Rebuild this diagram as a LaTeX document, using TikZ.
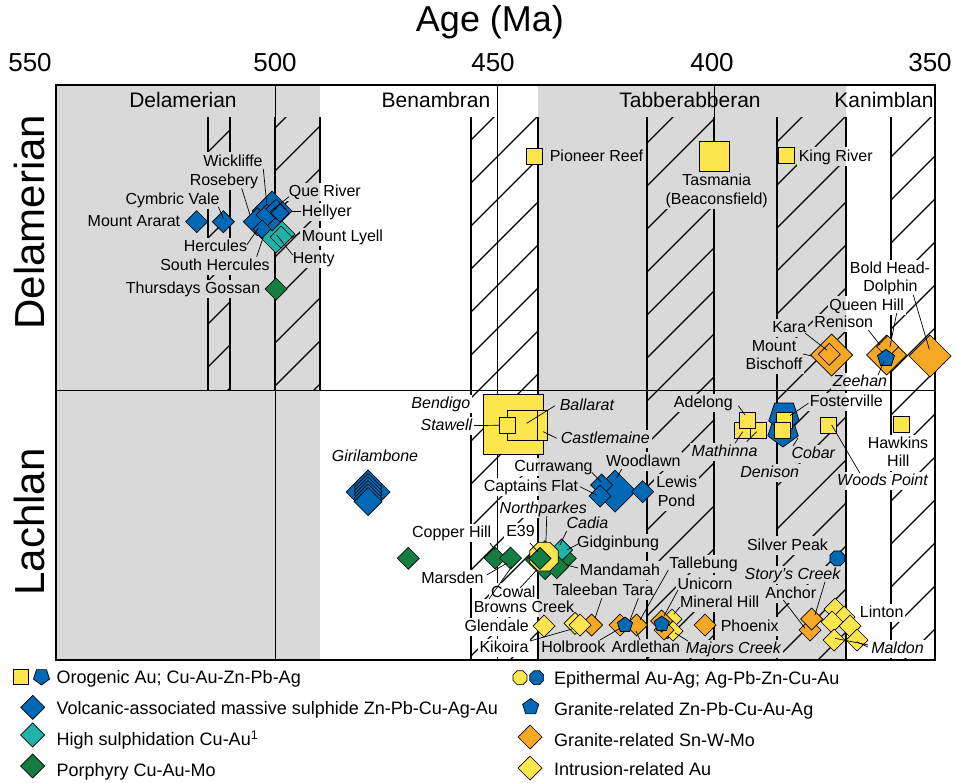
\documentclass[tikz,border=0pt]{standalone}
\usepackage{fontspec}
\setmainfont{Liberation Sans}
\usetikzlibrary{shapes.geometric,calc}
\pgfdeclarelayer{bg}
\pgfdeclarelayer{knock}
\pgfsetlayers{bg,knock,main}
\definecolor{zone}{RGB}{217,217,217}
\definecolor{oy}{RGB}{253,230,77}
\definecolor{vb}{RGB}{0,104,180}
\definecolor{hs}{RGB}{32,180,168}
\definecolor{pg}{RGB}{20,125,66}
\definecolor{go}{RGB}{245,168,38}
\tikzset{
  mk/.style={draw=black,line width=0.7pt,inner sep=0pt,outer sep=0pt},
  lb/.style={font=\fontsize{16}{18}\selectfont,inner sep=0.6pt,text height=12pt,text depth=1.6pt},
  lbi/.style={lb,font=\fontsize{16}{18}\selectfont\itshape},
  lead/.style={draw=black,line width=0.7pt},
  hatchln/.style={line width=1.2pt},
  bandln/.style={line width=1.8pt},
  ageln/.style={line width=0.8pt},
  leg/.style={font=\fontsize{18}{20}\selectfont,anchor=west,inner sep=0pt,text height=14pt,text depth=1.5pt},
  num/.style={font=\fontsize{26}{30}\selectfont,anchor=base,inner sep=0pt},
  oro/.style={font=\fontsize{21}{24}\selectfont,anchor=base,inner sep=0pt},
  side/.style={font=\fontsize{42}{46}\selectfont,rotate=90,inner sep=0pt}
}
\newcommand\Dia[5]{\node[mk,diamond,fill=#5,minimum width=2*#4pt,minimum height=2*#4pt] (#1) at (#2,#3) {};}
\newcommand\Sq[4]{\node[mk,rectangle,fill=oy,minimum size=#4pt] (#1) at (#2,#3) {};}
\newcommand\Pent[5]{\node[mk,regular polygon,regular polygon sides=5,fill=vb,minimum size=2*#4pt,shape border rotate=#5] (#1) at (#2,#3) {};}
\newcommand\Oct[5]{\node[mk,regular polygon,regular polygon sides=8,fill=#5,minimum size=2*#4pt] (#1) at (#2,#3) {};}
\def\knocklist{lWick,lRose,lCymb,lArar,lQue,lHell,lLyell,lHenty,lHerc,lSHerc,lThur,lPion,lTasA,lTasB,lKing,lBoldA,lBoldB,lQueen,lRen,lKara,lMtBa,lMtBb,lZee,lBend,lStaw,lBall,lCast,lAdel,lFost,lMath,lCob,lDen,lWoods,lHawA,lHawB,lGiri,lWood,lCurr,lCapt,lLewA,lLewB,lNorth,lCadia,lCopp,lEtn,lGidg,lSilv,lTall,lMand,lStory,lMars,lUni,lTale,lTara,lCowal,lAnch,lMin,lBrown,lLint,lGlen,lPhoe,lKik,lHolb,lArd,lMaj,lMald}
\begin{document}
\begin{tikzpicture}[x=1pt,y=-1pt]
\useasboundingbox (0,0) rectangle (956,782);
% ---------- background: zones, hatching, lines
\begin{pgfonlayer}{bg}
\fill[white] (0,0) rectangle (956,782);
\fill[zone] (56,85) rectangle (320,660);
\fill[zone] (538,85) rectangle (846,660);
\begin{scope}
\clip (208,117) rectangle (230,390) (275,117) rectangle (320,390)
      (647,117) rectangle (714,660)
      (777,117) rectangle (846,660) (891,117) rectangle (935,660);
\foreach \k in {6,...,38}{\pgfmathsetmacro\c{16+43*\k}\draw[hatchln] (\c-100,100) -- (\c-700,700);}
\end{scope}
\begin{scope}
\clip (471,117) rectangle (538,660);
\foreach \k in {12,...,28}{\pgfmathsetmacro\c{9+43*\k}\draw[hatchln] (\c-100,100) -- (\c-700,700);}
\end{scope}
\foreach \x in {208,230,275,320}{\draw[bandln] (\x,117) -- (\x,390);}
\foreach \x in {471,538,647,714,777,846,891}{\draw[bandln] (\x,117) -- (\x,660);}
\foreach \x in {275,497,714}{\draw[ageln] (\x,85) -- (\x,660);}
\end{pgfonlayer}
% ---------- frame and axis
\draw[line width=1.2pt] (56,85) rectangle (935,660);
\draw[line width=1pt] (56,390) -- (935,390);
\node[font=\fontsize{36}{40}\selectfont,anchor=base,inner sep=0pt] (title) at (490,31) {Age (Ma)};
\node[num] (t550) at (30,71) {550};
\node[num] (t500) at (275,71) {500};
\node[num] (t450) at (493,71) {450};
\node[num] (t400) at (712,71) {400};
\node[num] (t350) at (930,71) {350};
\node[oro] (oDel) at (183,107) {Delamerian};
\node[oro] (oBen) at (436,107) {Benambran};
\node[oro] (oTab) at (690,107) {Tabberabberan};
\node[oro] (oKan) at (884,107) {Kanimblan};
\node[side] (vDel) at (29,222) {Delamerian};
\node[side] (vLach) at (29,522) {Lachlan};
% ---------- markers: Delamerian
\Dia{mArar}{196.7}{221.7}{11}{vb}
\Dia{mCymb}{223.3}{221.7}{11}{vb}
\Dia{mLyell}{276}{234}{19}{hs}
\Dia{mHenty}{281}{237}{11}{hs}
\Dia{mRose}{272}{211}{20}{vb}
\Dia{mHerc}{257.3}{221.7}{14}{vb}
\Dia{mWick}{267}{215}{11}{vb}
\Dia{mQue}{276}{209}{10}{vb}
\Dia{mSHerc}{262}{229}{9}{vb}
\Dia{mHell}{280}{213}{9}{vb}
\Dia{mThur}{276}{289}{11}{pg}
\Sq{mPion}{534.7}{156.3}{16}
\Sq{mTas}{714.3}{156.2}{30}
\Sq{mKing}{786.3}{155.5}{16}
\Dia{mBisc}{831.7}{355}{21}{go}
\Dia{mKara}{829.3}{354.3}{11}{go}
\Dia{mRen}{886.7}{355}{20}{go}
\Dia{mQueen}{887.7}{346.7}{11}{go}
\Pent{mZee}{886}{358.3}{9}{0}
\Dia{mBold}{930}{356}{21}{go}
% ---------- markers: Lachlan
\Sq{mBend}{513.3}{424.2}{60}
\Sq{mCast}{532.3}{425}{30}
\Sq{mBall}{522.3}{425}{30}
\Sq{mStaw}{507.5}{425.3}{16}
\Dia{mGir0}{368}{492}{22}{vb}
\foreach \i/\y in {1/484,2/487.5,3/491,4/494.5,5/498,6/501.5}{\Dia{mGir\i}{368}{\y}{14}{vb}}
\Dia{mWood}{615}{491}{21}{vb}
\Dia{mCurr}{601.7}{485}{11}{vb}
\Dia{mCapt}{600}{496}{11}{vb}
\Dia{mLew}{642.7}{491.7}{11}{vb}
\Dia{mLone}{408.3}{558.3}{11}{pg}
\Dia{mCopp}{495}{558}{11}{pg}
\Dia{mMars}{510.5}{558}{11}{pg}
\Dia{mNorth}{545}{560}{19.5}{pg}
\Dia{mCadia}{563.3}{558.3}{13}{pg}
\Dia{mGidg}{561.7}{550}{11}{hs}
\Dia{mMand}{556.7}{566.7}{12}{pg}
\Oct{mCowal}{544}{556.7}{15.5}{oy}
\Dia{mEtn}{540}{558.3}{11}{pg}
\Dia{mGlen}{544}{626}{11}{oy}
\Dia{mTale}{591.7}{625}{11}{go}
\Dia{mKikA}{575}{623.3}{11}{oy}
\Dia{mKikB}{580}{625}{11}{oy}
\Dia{mArd}{636.7}{625}{11}{go}
\Dia{mTara}{620}{625}{11}{go}
\Pent{mHolb}{625}{625}{8}{0}
\Dia{mMajA}{672}{619}{10}{oy}
\Dia{mMajB}{673}{631}{10}{oy}
\Dia{mUniA}{664}{630}{10}{go}
\Dia{mUniB}{661.7}{621}{11}{go}
\Pent{mMin}{661.7}{624}{8}{0}
\Dia{mPhoe}{705}{625}{11}{go}
\Oct{mSilv}{837.3}{558.3}{8}{vb}
\Dia{mAnchA}{810}{630}{11}{go}
\Dia{mAnchB}{811.7}{619}{11}{go}
\Dia{mLinA}{835}{609}{11}{oy}
\Dia{mLinB}{844}{617}{11}{oy}
\Dia{mLinC}{832}{622}{11}{oy}
\Dia{mLinD}{850}{626}{11}{oy}
\Dia{mMalA}{834}{640}{11}{oy}
\Dia{mMalB}{857}{640}{11}{oy}
\Sq{mAdeA}{742}{430}{16}
\Sq{mAdeB}{758.7}{430}{16}
\Sq{mAdeC}{747}{420}{16}
\Pent{mDenA}{783}{431}{16}{180}
\Pent{mDenB}{784}{416}{16}{180}
\Sq{mFost}{784.7}{420.3}{16}
\Sq{mCob}{782}{430.5}{16}
\Sq{mWoods}{828.7}{425.3}{16}
\Sq{mHaw}{901.3}{424.7}{16}
% ---------- leaders
\draw[lead] (263.3,169) -- (266.7,203.3);
\draw[lead] (241.7,188.3) -- (250,215);
\draw[lead] (218.3,206.7) -- (223.3,218.3);
\draw[lead] (289,196.7) -- (270,211.7);
\draw[lead] (301,211) -- (292,211);
\draw[lead] (300,233) -- (291,238);
\draw[lead] (292.7,255) -- (276.7,235);
\draw[lead] (246.7,245) -- (258.3,228.3);
\draw[lead] (256.7,256.7) -- (263.3,236.7);
\draw[lead] (805,333) -- (826.7,350);
\draw[lead] (803,354) -- (812,356);
\draw[lead] (896.7,313) -- (890,346.7);
\draw[lead] (868.3,330) -- (880,345);
\draw[lead] (878,375) -- (884,361.7);
\draw[lead] (913.3,295) -- (929.3,349.3);
\draw[lead] (474,425.5) -- (mStaw.west);
\draw[lead] (555,405.7) -- (526.7,423.3);
\draw[lead] (556.7,438.3) -- (543.3,431.7);
\draw[lead] (738.3,405.7) -- (745,415);
\draw[lead] (742.7,431.7) -- (735,443.3);
\draw[lead] (756.7,431.7) -- (746.7,441.7);
\draw[lead] (808.3,403.3) -- (790,415.7);
\draw[lead] (860,473.3) -- (831.7,425);
\draw[lead] (793,446) -- (798,438);
\draw[lead] (621.7,469) -- (616.7,478);
\draw[lead] (591.7,472.3) -- (601,481.7);
\draw[lead] (580,486.7) -- (596.7,495);
\draw[lead] (546.7,516) -- (546,540.5);
\draw[lead] (566.7,531) -- (560,545);
\draw[lead] (530,543) -- (538,552);
\draw[lead] (490,543) -- (495,550);
\draw[lead] (578,544) -- (566.7,550);
\draw[lead] (578,568) -- (566.7,565);
\draw[lead] (486.7,575) -- (506.7,563.3);
\draw[lead] (489,599) -- (511.7,566.7);
\draw[lead] (520,588) -- (536.7,570);
\draw[lead] (601.7,598.3) -- (595,618.3);
\draw[lead] (638.3,598.3) -- (630,620);
\draw[lead] (668.3,570) -- (640,620);
\draw[lead] (678,590) -- (664,616);
\draw[lead] (680,607) -- (674,614);
\draw[lead] (600,640) -- (620,628.3);
\draw[lead] (640,640) -- (636,631);
\draw[lead] (688,641) -- (675,633);
\draw[lead] (530,641) -- (572,629);
\draw[lead] (825,581.7) -- (815,615);
\draw[lead] (783.3,600) -- (805,628.3);
\draw[lead] (868.3,645) -- (835,638.3);
\draw[lead] (868,647) -- (856.7,641.7);
% ---------- labels: Delamerian
\node[lb] (lWick) at (233,161) {Wickliffe};
\node[lb] (lRose) at (224,180) {Rosebery};
\node[lb] (lCymb) at (172.5,199) {Cymbric Vale};
\node[lb,anchor=east] (lArar) at (181,221.7) {Mount Ararat};
\node[lb,anchor=west] (lQue) at (288,191.5) {Que River};
\node[lb,anchor=west] (lHell) at (301,211.5) {Hellyer};
\node[lb,anchor=west] (lLyell) at (301,236.5) {Mount Lyell};
\node[lb,anchor=west] (lHenty) at (292,258.5) {Henty};
\node[lb] (lHerc) at (215.5,246.7) {Hercules};
\node[lb] (lSHerc) at (215,265) {South Hercules};
\node[lb,anchor=east] (lThur) at (261,288.5) {Thursdays Gossan};
\node[lb,anchor=west] (lPion) at (549,156.5) {Pioneer Reef};
\node[lb] (lTasA) at (716.7,180.7) {Tasmania};
\node[lb] (lTasB) at (716.7,199) {(Beaconsfield)};
\node[lb,anchor=west] (lKing) at (798,156) {King River};
\node[lb] (lBoldA) at (890,268.3) {Bold Head-};
\node[lb] (lBoldB) at (890.5,286.7) {Dolphin};
\node[lb] (lQueen) at (866.7,305) {Queen Hill};
\node[lb] (lRen) at (843.8,322.7) {Renison};
\node[lb] (lKara) at (789.3,327.3) {Kara};
\node[lb] (lMtBa) at (774,346.7) {Mount};
\node[lb] (lMtBb) at (774,364.3) {Bischoff};
\node[lbi] (lZee) at (860,381.7) {Zeehan};
% ---------- labels: Lachlan
\node[lbi,anchor=east] (lBend) at (471,403.3) {Bendigo};
\node[lbi,anchor=east] (lStaw) at (473,425.7) {Stawell};
\node[lbi,anchor=west] (lBall) at (559,405.7) {Ballarat};
\node[lbi,anchor=west] (lCast) at (560,438.3) {Castlemaine};
\node[lb,anchor=east] (lAdel) at (733.5,402.5) {Adelong};
\node[lb,anchor=west] (lFost) at (809,401.7) {Fosterville};
\node[lbi,anchor=east] (lMath) at (758.3,451.7) {Mathinna};
\node[lbi,anchor=west] (lCob) at (790.7,453.3) {Cobar};
\node[lbi] (lDen) at (769.7,472.3) {Denison};
\node[lbi] (lWoods) at (882.5,480.7) {Woods Point};
\node[lb] (lHawA) at (898,443.3) {Hawkins};
\node[lb] (lHawB) at (898.3,461) {Hill};
\node[lbi] (lGiri) at (375,456) {Girilambone};
\node[lb] (lWood) at (643.3,461) {Woodlawn};
\node[lb] (lCurr) at (553.5,466.7) {Currawang};
\node[lb] (lCapt) at (531,486.7) {Captains Flat};
\node[lb] (lLewA) at (676.7,482.7) {Lewis};
\node[lb] (lLewB) at (676.5,501) {Pond};
\node[lbi] (lNorth) at (543.3,508.3) {Northparkes};
\node[lbi] (lCadia) at (587.5,523.3) {Cadia};
\node[lb] (lCopp) at (451.7,532.3) {Copper Hill};
\node[lb] (lEtn) at (520.5,531.7) {E39};
\node[lb] (lGidg) at (618,542.5) {Gidginbung};
\node[lb] (lSilv) at (787.5,545) {Silver Peak};
\node[lb] (lTall) at (703.5,563.5) {Tallebung};
\node[lb] (lMand) at (620,570) {Mandamah};
\node[lbi] (lStory) at (792.5,574.3) {Story's Creek};
\node[lb] (lMars) at (452.5,578.3) {Marsden};
\node[lb,anchor=west] (lUni) at (676.7,584) {Unicorn};
\node[lb,anchor=west] (lTale) at (551.7,590) {Taleeban};
\node[lb,anchor=west] (lTara) at (621.7,590) {Tara};
\node[lb] (lCowal) at (513.3,592) {Cowal};
\node[lb] (lAnch) at (790.8,593.3) {Anchor};
\node[lb,anchor=west] (lMin) at (679.3,602.3) {Mineral Hill};
\node[lb] (lBrown) at (524,607.5) {Browns Creek};
\node[lb] (lLint) at (881.7,612.7) {Linton};
\node[lb] (lGlen) at (496.7,626.7) {Glendale};
\node[lb,anchor=west] (lPhoe) at (720,626) {Phoenix};
\node[lb] (lKik) at (504,647.7) {Kikoira};
\node[lb] (lHolb) at (573.3,647.7) {Holbrook};
\node[lb] (lArd) at (645.8,647.7) {Ardlethan};
\node[lbi,anchor=east] (lMaj) at (781.7,648.3) {Majors Creek};
\node[lbi] (lMald) at (897.5,648.3) {Maldon};
% ---------- knockouts behind labels
\begin{pgfonlayer}{knock}
\foreach \n in \knocklist {\fill[white] ($(\n.south west)+(-1,2)$) rectangle ($(\n.north east)+(1,-1)$);}
\begin{scope}
\clip (56,85) rectangle (320,660) (538,85) rectangle (846,660);
\foreach \n in \knocklist {\fill[zone] ($(\n.south west)+(-1,2)$) rectangle ($(\n.north east)+(1,-1)$);}
\end{scope}
\end{pgfonlayer}
% ---------- legend
\Sq{gSq}{20.8}{676.7}{15}
\Pent{gPo}{41.5}{676.5}{8.5}{180}
\node[leg] (gtA) at (56.5,677) {Orogenic Au; Cu-Au-Zn-Pb-Ag};
\Dia{gVm}{32.7}{707.3}{12}{vb}
\node[leg] (gtB) at (56.5,708) {Volcanic-associated massive sulphide Zn-Pb-Cu-Ag-Au};
\Dia{gHs}{32.7}{735}{12}{hs}
\node[leg] (gtC) at (56.5,739.5) {High sulphidation Cu-Au\textsuperscript{1}};
\Dia{gPg}{32.7}{766}{12}{pg}
\node[leg] (gtD) at (56.5,770) {Porphyry Cu-Au-Mo};
\Oct{gEa}{520}{677.7}{7.5}{oy}
\Oct{gEb}{536.7}{677.7}{7.5}{vb}
\node[leg] (gtE) at (554,678) {Epithermal Au-Ag; Ag-Pb-Zn-Cu-Au};
\Pent{gGr}{530.7}{707}{8.5}{0}
\node[leg] (gtF) at (554,709) {Granite-related Zn-Pb-Cu-Au-Ag};
\Dia{gSn}{530}{737}{12}{go}
\node[leg] (gtG) at (554,740) {Granite-related Sn-W-Mo};
\Dia{gIr}{530}{768}{12}{oy}
\node[leg] (gtH) at (554,769) {Intrusion-related Au};
\end{tikzpicture}
\end{document}
